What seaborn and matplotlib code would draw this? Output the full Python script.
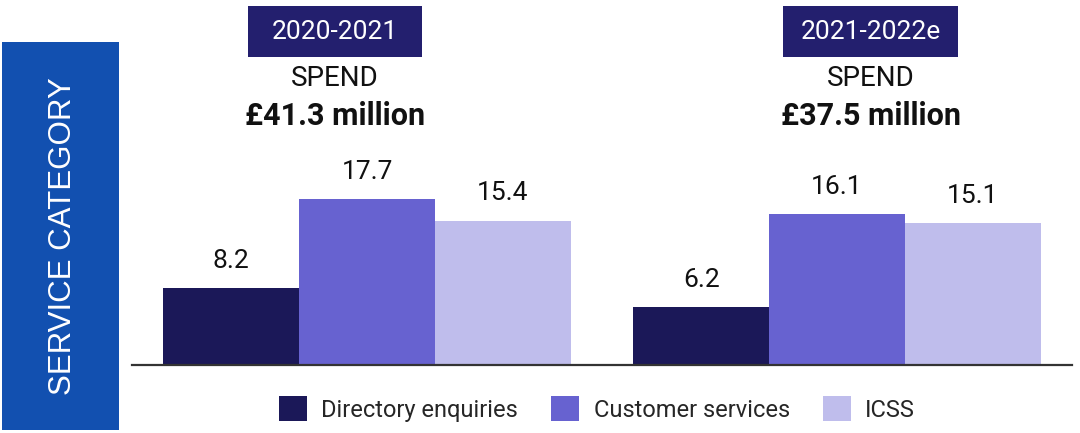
import matplotlib
matplotlib.use("Agg")
import matplotlib.pyplot as plt
from matplotlib.patches import Rectangle
import seaborn as sns
import pandas as pd

# Spend by service category, £ million
periods = ["2020-2021", "2021-2022e"]
services = ["Directory enquiries", "Customer services", "ICSS"]
directory_enquiries = [8.2, 6.2]
customer_services = [17.7, 16.1]
icss = [15.4, 15.1]
total_spend = ["£41.3 million", "£37.5 million"]

colors = ["#1B1858", "#6762D0", "#BFBDEC"]
box_color = "#231F6E"
panel_blue = "#1250B0"

sns.set_theme(style="white")
plt.rcParams["font.family"] = ["Roboto", "DejaVu Sans"]

rows = []
for i, p in enumerate(periods):
    for s, vals in zip(services, [directory_enquiries, customer_services, icss]):
        rows.append({"period": p, "service": s, "spend": vals[i]})
df = pd.DataFrame(rows)

fig = plt.figure(figsize=(10.8, 4.33), dpi=100)
ax = fig.add_axes([132 / 1080, 68 / 433, 940 / 1080, 225 / 433])

sns.barplot(data=df, x="period", y="spend", hue="service", order=periods,
            hue_order=services, palette=colors, saturation=1, width=0.866,
            linewidth=0, ax=ax, legend=False)

ax.set_xlim(-0.5, 1.5)
ax.set_ylim(0, 24)
ax.set_xlabel("")
ax.set_ylabel("")
ax.set_xticks([])
ax.set_yticks([])
for side in ["top", "left", "right"]:
    ax.spines[side].set_visible(False)
ax.spines["bottom"].set_color("#333333")
ax.spines["bottom"].set_linewidth(1.6)

for cont in ax.containers:
    ax.bar_label(cont, fmt="%.1f", padding=11, fontsize=19, color="#111111")

# Period headings above each group
trans = ax.get_xaxis_transform()
title_offsets = [-0.068, 0.072]
for i, p in enumerate(periods):
    xc = i + title_offsets[i]
    w = 0.372
    ax.add_patch(Rectangle((xc - w / 2, 1.37), w, 0.225, transform=trans,
                           facecolor=box_color, edgecolor="none", clip_on=False))
    ax.text(xc, 1.48, p, transform=trans, ha="center", va="center",
            color="white", fontsize=19)
    ax.text(xc, 1.272, "SPEND", transform=trans, ha="center", va="center",
            color="#111111", fontsize=20)
    ax.text(xc, 1.105, total_spend[i], transform=trans, ha="center", va="center",
            color="#111111", fontsize=22, fontweight="bold")

# Side panel
fig.patches.append(Rectangle((2 / 1080, 3 / 433), 117 / 1080, 388 / 433,
                             transform=fig.transFigure, facecolor=panel_blue,
                             edgecolor="none"))
fig.text(63 / 1080, 1 - 236 / 433, "SERVICE CATEGORY", rotation=90,
         ha="center", va="center", color="white", fontsize=22.5,
         family=["Liberation Sans", "DejaVu Sans"])

handles = [Rectangle((0, 0), 1, 1, facecolor=c, edgecolor="none") for c in colors]
fig.legend(handles, services, loc="center", bbox_to_anchor=(597 / 1080, 1 - 409 / 433),
           ncol=3, frameon=False, handlelength=1.2, handleheight=1.2,
           handletextpad=0.6, columnspacing=1.4,
           prop={"family": ["Roboto", "DejaVu Sans"], "size": 17})

fig.savefig("out.png", dpi=100)
